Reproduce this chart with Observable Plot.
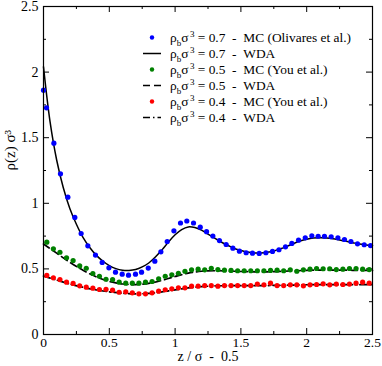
<!DOCTYPE html>
<html><head><meta charset="utf-8">
<script src="https://cdn.jsdelivr.net/npm/d3@7"></script>
<script src="https://cdn.jsdelivr.net/npm/@observablehq/plot@0.6"></script>
<style>
body{margin:0;background:#fff}
</style>
</head><body><div id="chart"></div>
<script>
// ---- data ----
const xMajor = [0, 0.5, 1, 1.5, 2, 2.5];
const xMinor = [0.25, 0.75, 1.25, 1.75, 2.25];
const yMajor = [0, 0.5, 1, 1.5, 2, 2.5];
const yMinor = [0.25, 0.75, 1.25, 1.75, 2.25];
const xLabel = "z / σ  -  0.5";
const yLabel = "ρ(z) σ³";

// MC rho=0.7 (Olivares et al.)
const mc07x = [0, 0.023, 0.079, 0.129, 0.185, 0.238, 0.286, 0.337, 0.395, 0.446, 0.497, 0.547, 0.598, 0.646, 0.699, 0.745, 0.796, 0.846, 0.892, 0.940, 0.991, 1.041, 1.089, 1.140, 1.191, 1.239, 1.287, 1.337, 1.388, 1.439, 1.489, 1.540, 1.588, 1.639, 1.690, 1.740, 1.789, 1.839, 1.887, 1.938, 1.989, 2.039, 2.087, 2.135, 2.186, 2.237, 2.287, 2.336, 2.386, 2.437, 2.485];
const mc07y = [1.862, 1.728, 1.458, 1.225, 1.047, 0.892, 0.770, 0.676, 0.605, 0.549, 0.508, 0.475, 0.460, 0.452, 0.460, 0.475, 0.506, 0.559, 0.630, 0.709, 0.790, 0.850, 0.865, 0.850, 0.818, 0.784, 0.750, 0.716, 0.686, 0.658, 0.635, 0.623, 0.620, 0.618, 0.623, 0.633, 0.646, 0.668, 0.694, 0.719, 0.737, 0.752, 0.749, 0.749, 0.745, 0.737, 0.724, 0.709, 0.691, 0.684, 0.678];

// MC rho=0.5 and 0.4 (You et al.) share the same z grid
const mcYouX = [0.025, 0.075, 0.125, 0.175, 0.225, 0.275, 0.325, 0.375, 0.425, 0.475, 0.525, 0.575, 0.625, 0.675, 0.725, 0.775, 0.825, 0.875, 0.925, 0.975, 1.025, 1.075, 1.125, 1.175, 1.225, 1.275, 1.325, 1.375, 1.425, 1.475, 1.525, 1.575, 1.625, 1.675, 1.725, 1.775, 1.825, 1.875, 1.925, 1.975, 2.025, 2.075, 2.125, 2.175, 2.225, 2.275, 2.325, 2.375, 2.425, 2.475];
const mc05y = [0.704, 0.653, 0.627, 0.585, 0.564, 0.523, 0.505, 0.465, 0.444, 0.421, 0.419, 0.399, 0.391, 0.391, 0.391, 0.399, 0.404, 0.425, 0.444, 0.455, 0.467, 0.482, 0.493, 0.498, 0.493, 0.505, 0.495, 0.490, 0.488, 0.486, 0.486, 0.486, 0.486, 0.486, 0.488, 0.490, 0.486, 0.493, 0.482, 0.493, 0.498, 0.503, 0.501, 0.501, 0.495, 0.498, 0.503, 0.503, 0.498, 0.495];
const mc04y = [0.450, 0.432, 0.419, 0.399, 0.389, 0.371, 0.361, 0.353, 0.343, 0.345, 0.338, 0.322, 0.325, 0.318, 0.310, 0.310, 0.318, 0.330, 0.341, 0.348, 0.356, 0.356, 0.368, 0.368, 0.373, 0.373, 0.368, 0.373, 0.373, 0.373, 0.373, 0.373, 0.384, 0.379, 0.391, 0.373, 0.373, 0.379, 0.379, 0.371, 0.379, 0.381, 0.386, 0.379, 0.384, 0.381, 0.384, 0.391, 0.399, 0.391];

// WDA curves
const wdaX07 = [0, 0.05, 0.1, 0.15, 0.2, 0.25, 0.3, 0.35, 0.4, 0.45, 0.5, 0.55, 0.6, 0.65, 0.7, 0.75, 0.8, 0.85, 0.9, 0.95, 1.0, 1.05, 1.1, 1.15, 1.2, 1.25, 1.3, 1.35, 1.4, 1.45, 1.5, 1.55, 1.6, 1.65, 1.7, 1.75, 1.8, 1.85, 1.9, 1.95, 2.0, 2.05, 2.1, 2.15, 2.2, 2.25, 2.3, 2.35, 2.4, 2.45, 2.5];
const wda07y = [2.04, 1.62, 1.33, 1.12, 0.96, 0.84, 0.74, 0.665, 0.605, 0.56, 0.525, 0.502, 0.49, 0.488, 0.495, 0.515, 0.545, 0.59, 0.645, 0.705, 0.76, 0.80, 0.82, 0.815, 0.795, 0.765, 0.735, 0.705, 0.68, 0.655, 0.64, 0.628, 0.622, 0.622, 0.627, 0.637, 0.653, 0.672, 0.693, 0.712, 0.726, 0.735, 0.738, 0.736, 0.73, 0.72, 0.71, 0.70, 0.69, 0.683, 0.677];
const wdaX = [0, 0.1, 0.2, 0.3, 0.4, 0.5, 0.6, 0.7, 0.8, 0.9, 1.0, 1.1, 1.2, 1.3, 1.4, 1.5, 1.6, 1.7, 1.8, 1.9, 2.0, 2.1, 2.2, 2.3, 2.4, 2.5];
const wda05y = [0.69, 0.62, 0.55, 0.49, 0.44, 0.405, 0.385, 0.38, 0.39, 0.412, 0.442, 0.468, 0.482, 0.486, 0.484, 0.48, 0.478, 0.478, 0.481, 0.485, 0.489, 0.491, 0.491, 0.49, 0.489, 0.488];
const wda04y = [0.445, 0.415, 0.385, 0.36, 0.34, 0.325, 0.315, 0.31, 0.313, 0.325, 0.34, 0.355, 0.365, 0.37, 0.372, 0.372, 0.372, 0.373, 0.375, 0.377, 0.379, 0.38, 0.38, 0.38, 0.38, 0.38];

// legend
const legendRho = ["0.7", "0.7", "0.5", "0.5", "0.4", "0.4"];
const legendSrc = ["MC (Olivares et al.)", "WDA", "MC (You et al.)", "WDA", "MC (You et al.)", "WDA"];
const legendKind = ["dot", "line", "dot", "line", "dot", "line"];
const legendColor = ["#0000ff", "#000000", "#008000", "#000000", "#ff0000", "#000000"];
const legendDash = [null, null, null, "7,4", null, "7,3,1.5,3"];

// ---- build tables ----
const pts = (xs, ys) => xs.map((x, i) => ({x, y: ys[i]}));
const fmt = d => String(d);
const FONT = "Liberation Serif";

const chart = Plot.plot({
  width: 382, height: 366,
  marginLeft: 43, marginRight: 10, marginTop: 6, marginBottom: 32,
  style: {background: "white", color: "black"},
  x: {domain: [0, 2.5], axis: null},
  y: {domain: [0, 2.5], axis: null},
  marks: [
    // ticks (inward, all four sides)
    Plot.tickX(xMajor, {x: d => d, insetTop: 322, stroke: "black"}),
    Plot.tickX(xMinor, {x: d => d, insetTop: 325, stroke: "black"}),
    Plot.tickX(xMajor, {x: d => d, insetBottom: 322, stroke: "black"}),
    Plot.tickX(xMinor, {x: d => d, insetBottom: 325, stroke: "black"}),
    Plot.tickY(yMajor, {y: d => d, insetRight: 323, stroke: "black"}),
    Plot.tickY(yMinor, {y: d => d, insetRight: 326, stroke: "black"}),
    Plot.tickY(yMajor, {y: d => d, insetLeft: 323, stroke: "black"}),
    Plot.tickY(yMinor, {y: d => d, insetLeft: 326, stroke: "black"}),
    Plot.axisX({ticks: xMajor, tickSize: 0, tickPadding: 3, tickFormat: fmt, label: null, fontSize: 13.5, fontFamily: FONT}),
    Plot.axisY({ticks: yMajor, tickSize: 0, tickPadding: 5, tickFormat: fmt, label: null, fontSize: 14, fontFamily: FONT}),
    Plot.text([xLabel], {frameAnchor: "bottom", dy: 26, text: d => d, fontSize: 14, fontFamily: FONT}),
    Plot.text([yLabel], {frameAnchor: "left", dx: -33, rotate: -90, text: d => d, fontSize: 15, fontFamily: FONT}),
    // WDA lines
    Plot.line(pts(wdaX07, wda07y), {x: "x", y: "y", stroke: "black", strokeWidth: 1.5, curve: "catmull-rom"}),
    Plot.line(pts(wdaX, wda05y), {x: "x", y: "y", stroke: "black", strokeWidth: 1.7, strokeDasharray: "7,4", curve: "catmull-rom"}),
    Plot.line(pts(wdaX, wda04y), {x: "x", y: "y", stroke: "black", strokeWidth: 1.7, strokeDasharray: "7,3,1.5,3", curve: "catmull-rom"}),
    // MC points
    Plot.dot(pts(mc07x, mc07y), {x: "x", y: "y", r: 2.6, fill: "#0000ff"}),
    Plot.dot(pts(mcYouX, mc05y), {x: "x", y: "y", r: 2.6, fill: "#008000"}),
    Plot.dot(pts(mcYouX, mc04y), {x: "x", y: "y", r: 2.6, fill: "#ff0000"}),
    Plot.frame({stroke: "black", strokeWidth: 1.2})
  ]
});

// legend inside the plot area
const svg = d3.select(chart);
const lg = svg.append("g").attr("font-family", FONT).attr("font-size", 13.4).attr("text-anchor", "start");
const y0 = 37.5, step = 16;
legendKind.forEach((k, i) => {
  const yy = y0 + i * step;
  if (k === "dot") {
    lg.append("circle").attr("cx", 152).attr("cy", yy).attr("r", 2.2).attr("fill", legendColor[i]);
  } else {
    lg.append("line").attr("x1", 143).attr("x2", 161).attr("y1", yy).attr("y2", yy)
      .attr("stroke", legendColor[i]).attr("stroke-width", 1.5)
      .attr("stroke-dasharray", legendDash[i]);
  }
  const t = lg.append("text").attr("x", 170).attr("y", yy + 4.5).attr("fill", "black")
    .attr("text-anchor", "start").attr("font-family", FONT).attr("font-size", 13.4)
    .style("white-space", "pre");
  t.append("tspan").text("ρ");
  t.append("tspan").attr("dy", 3.5).attr("font-size", 9).text("b");
  t.append("tspan").attr("dy", -3.5).text("σ");
  t.append("tspan").attr("dy", -5).attr("font-size", 9).attr("dx", 1.5).text("3");
  t.append("tspan").attr("dy", 5).text(" = " + legendRho[i] + "  -  " + legendSrc[i]);
});

document.getElementById("chart").appendChild(chart);
</script>
</body></html>
